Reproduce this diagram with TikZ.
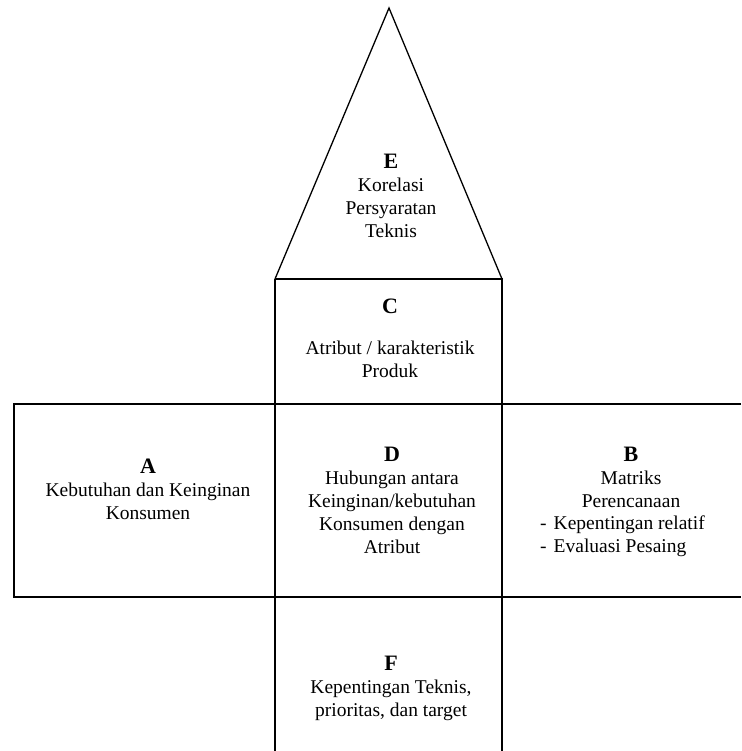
\documentclass[tikz,border=0pt]{standalone}
\usepackage{fontspec}
\setmainfont{Liberation Serif}
\begin{document}
\begin{tikzpicture}[x=1pt,y=-1pt,
  line/.style={line width=1.3pt,black},
  txt/.style={align=center,inner sep=0pt,font=\fontsize{19.5}{23}\selectfont},
  big/.style={font=\fontsize{22}{23}\selectfont\bfseries}]
\useasboundingbox (0,0) rectangle (741,751);
% coordinates
\coordinate (apex) at (389,8);
\coordinate (cTL) at (275,279);
\coordinate (cTR) at (502,279);
\coordinate (dTL) at (275,404);
\coordinate (dTR) at (502,404);
\coordinate (dBL) at (275,597);
\coordinate (dBR) at (502,597);
\coordinate (aTL) at (14,404);
\coordinate (aBL) at (14,597);
\coordinate (bTR) at (741,404);
\coordinate (bBR) at (741,597);
\coordinate (fBL) at (275,751);
\coordinate (fBR) at (502,751);
% roof (E)
\draw[line,line join=miter] (cTL) -- (apex) -- (cTR);
% C box
\draw[line] (cTL) -- (cTR) -- (dTR);
\draw[line] (cTL) -- (dTL);
% middle row
\draw[line] (bTR) -- (aTL) -- (aBL) -- (bBR);
% verticals through D and F
\draw[line] (dTL) -- (fBL);
\draw[line] (dTR) -- (fBR);
% texts
\node[txt] (E) at (391,196) {{\bfseries\fontsize{22}{23}\selectfont E}\\Korelasi\\Persyaratan\\Teknis};
\node[txt] (C) at (390,338) {{\bfseries\fontsize{22}{23}\selectfont C}\\[18pt]Atribut / karakteristik\\Produk};
\node[txt] (A) at (148,489) {{\bfseries\fontsize{22}{23}\selectfont A}\\Kebutuhan dan Keinginan\\Konsumen};
\node[txt] (D) at (392,500) {{\bfseries\fontsize{22}{23}\selectfont D}\\Hubungan antara\\Keinginan/kebutuhan\\Konsumen dengan\\Atribut};
\node[txt] (B) at (631,477) {{\bfseries\fontsize{22}{23}\selectfont B}\\Matriks\\Perencanaan};
\node[txt,align=left,anchor=west] (Blist) at (540,536) {-\hspace{7pt}Kepentingan relatif\\-\hspace{7pt}Evaluasi Pesaing};
\node[txt] (F) at (391,688) {{\bfseries\fontsize{22}{23}\selectfont F}\\Kepentingan Teknis,\\prioritas, dan target};
\end{tikzpicture}
\end{document}
